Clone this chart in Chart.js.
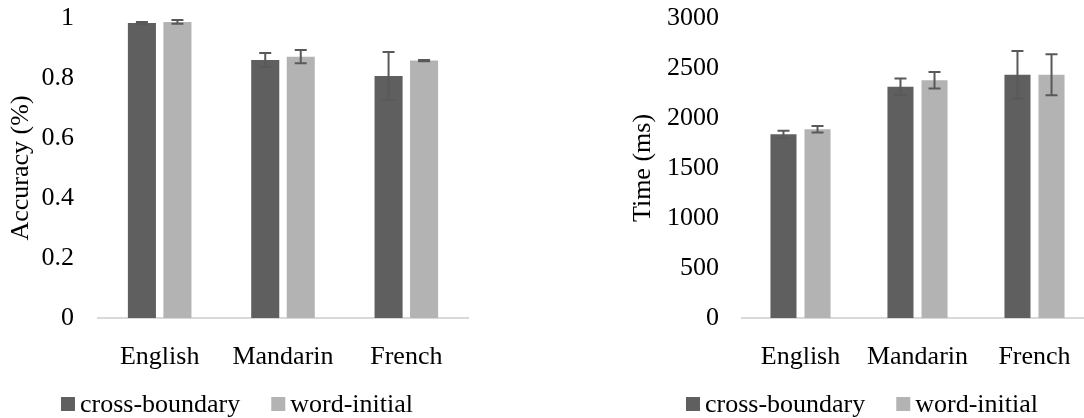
<!DOCTYPE html>
<html>
<head>
<meta charset="utf-8">
<script src="https://cdn.jsdelivr.net/npm/chart.js@4"></script>
<style>
    body { margin: 0; background: #fff; overflow: hidden; width: 1084px; height: 418px; position: relative; }
    .painel { position: absolute; top: 0; }
</style>
</head>
<body>
<div class="painel" style="left:0"><canvas id="graficoAcerto" width="475" height="418"></canvas></div>
<div class="painel" style="left:616px"><canvas id="graficoTempo" width="500" height="418"></canvas></div>
<script>
const categorias = ['English', 'Mandarin', 'French'];
const series = ['cross-boundary', 'word-initial'];

const acertoCruz        = [0.983, 0.860, 0.807];
const acertoInicial     = [0.987, 0.871, 0.858];
const erroAcertoCruz    = [0.004, 0.023, 0.080];
const erroAcertoInicial = [0.006, 0.022, 0.002];

const tempoCruz        = [1837, 2313, 2433];
const tempoInicial     = [1887, 2377, 2433];
const erroTempoCruz    = [36, 83, 238];
const erroTempoInicial = [33, 83, 205];

const ticksAcerto = [0, 0.2, 0.4, 0.6, 0.8, 1];
const ticksTempo  = [0, 500, 1000, 1500, 2000, 2500, 3000];

const FONTE = '"Liberation Serif", "Times New Roman", serif';
const COR_ESCURA = '#5f5f5f';
const COR_CLARA  = '#b3b3b3';

// barras de erro desenhadas sobre as barras
const barrasErro = {
    id: 'barrasErro',
    afterDatasetsDraw(chart) {
        const ctx = chart.ctx;
        const escala = chart.scales.y;
        ctx.save();
        ctx.strokeStyle = '#595959';
        ctx.lineWidth = 2;
        chart.data.datasets.forEach((ds, i) => {
            const meta = chart.getDatasetMeta(i);
            meta.data.forEach((barra, j) => {
                const v = ds.data[j], e = ds.erros[j];
                const yTopo = escala.getPixelForValue(v + e);
                const yBase = escala.getPixelForValue(v - e);
                const x = barra.x;
                ctx.beginPath();
                ctx.moveTo(x, yTopo); ctx.lineTo(x, yBase);
                ctx.moveTo(x - 6, yTopo); ctx.lineTo(x + 6, yTopo);
                ctx.moveTo(x - 6, yBase); ctx.lineTo(x + 6, yBase);
                ctx.stroke();
            });
        });
        ctx.restore();
    }
};

// legenda simples centrada num ponto dado
const legendaSimples = {
    id: 'legendaSimples',
    afterDraw(chart, args, opts) {
        const ctx = chart.ctx;
        ctx.save();
        ctx.font = opts.tamanho + 'px ' + FONTE;
        const larguras = chart.data.datasets.map(ds => ctx.measureText(ds.label).width);
        let total = 0;
        larguras.forEach((w, i) => { total += opts.caixa + opts.folga + w + (i ? opts.espaco : 0); });
        let x = opts.centro - total / 2;
        ctx.textBaseline = 'middle';
        chart.data.datasets.forEach((ds, i) => {
            ctx.fillStyle = ds.backgroundColor;
            ctx.fillRect(x, opts.y - opts.caixa / 2, opts.caixa, opts.caixa);
            x += opts.caixa + opts.folga;
            ctx.fillStyle = '#000';
            ctx.fillText(ds.label, x, opts.y + 1);
            x += larguras[i] + opts.espaco;
        });
        ctx.restore();
    }
};

function criarGrafico(canvas, cfg) {
    return new Chart(canvas.getContext('2d'), {
        type: 'bar',
        data: {
            labels: categorias,
            datasets: [
                { label: series[0], data: cfg.cruz, erros: cfg.erroCruz, backgroundColor: COR_ESCURA },
                { label: series[1], data: cfg.inicial, erros: cfg.erroInicial, backgroundColor: COR_CLARA }
            ]
        },
        options: {
            responsive: false,
            animation: false,
            categoryPercentage: cfg.catPct,
            barPercentage: cfg.barPct,
            layout: { padding: { left: 0, right: cfg.direita, top: 18, bottom: 40 } },
            plugins: {
                legend: { display: false },
                tooltip: { enabled: false },
                legendaSimples: { y: 404, centro: cfg.centroLegenda, caixa: 14, folga: 5, espaco: 31, tamanho: 26 }
            },
            scales: {
                x: {
                    grid: { display: false },
                    border: { display: true, color: '#d9d9d9', width: 2 },
                    ticks: { color: '#000', padding: 16, font: { family: FONTE, size: 26 } },
                    afterFit: s => { s.height = 60; }
                },
                y: {
                    min: 0,
                    max: cfg.ticks[cfg.ticks.length - 1],
                    afterBuildTicks: s => { s.ticks = cfg.ticks.map(v => ({ value: v })); },
                    grid: { display: false, drawTicks: false },
                    border: { display: false },
                    ticks: { color: '#000', padding: cfg.padY, font: { family: FONTE, size: 26 }, callback: v => String(v) },
                    title: { display: true, text: cfg.titulo, color: '#000', padding: { top: cfg.padTitulo, bottom: 0 }, font: { family: FONTE, size: 26 } },
                    afterFit: s => { s.width = cfg.larguraY; s.paddingTop = 0; s.paddingBottom = 0; }
                }
            }
        },
        plugins: [barrasErro, legendaSimples]
    });
}

document.addEventListener('DOMContentLoaded', () => {
    criarGrafico(document.getElementById('graficoAcerto'), {
        cruz: acertoCruz, inicial: acertoInicial,
        erroCruz: erroAcertoCruz, erroInicial: erroAcertoInicial,
        ticks: ticksAcerto, titulo: 'Accuracy (%)',
        larguraY: 98, direita: 475 - 468, padY: 24, padTitulo: 6,
        catPct: 0.576, barPct: 0.79, centroLegenda: 237
    });
    criarGrafico(document.getElementById('graficoTempo'), {
        cruz: tempoCruz, inicial: tempoInicial,
        erroCruz: erroTempoCruz, erroInicial: erroTempoInicial,
        ticks: ticksTempo, titulo: 'Time (ms)',
        larguraY: 126, direita: 500 - 477, padY: 23, padTitulo: 12,
        catPct: 0.582, barPct: 0.765, centroLegenda: 246
    });
});
</script>
</body>
</html>
